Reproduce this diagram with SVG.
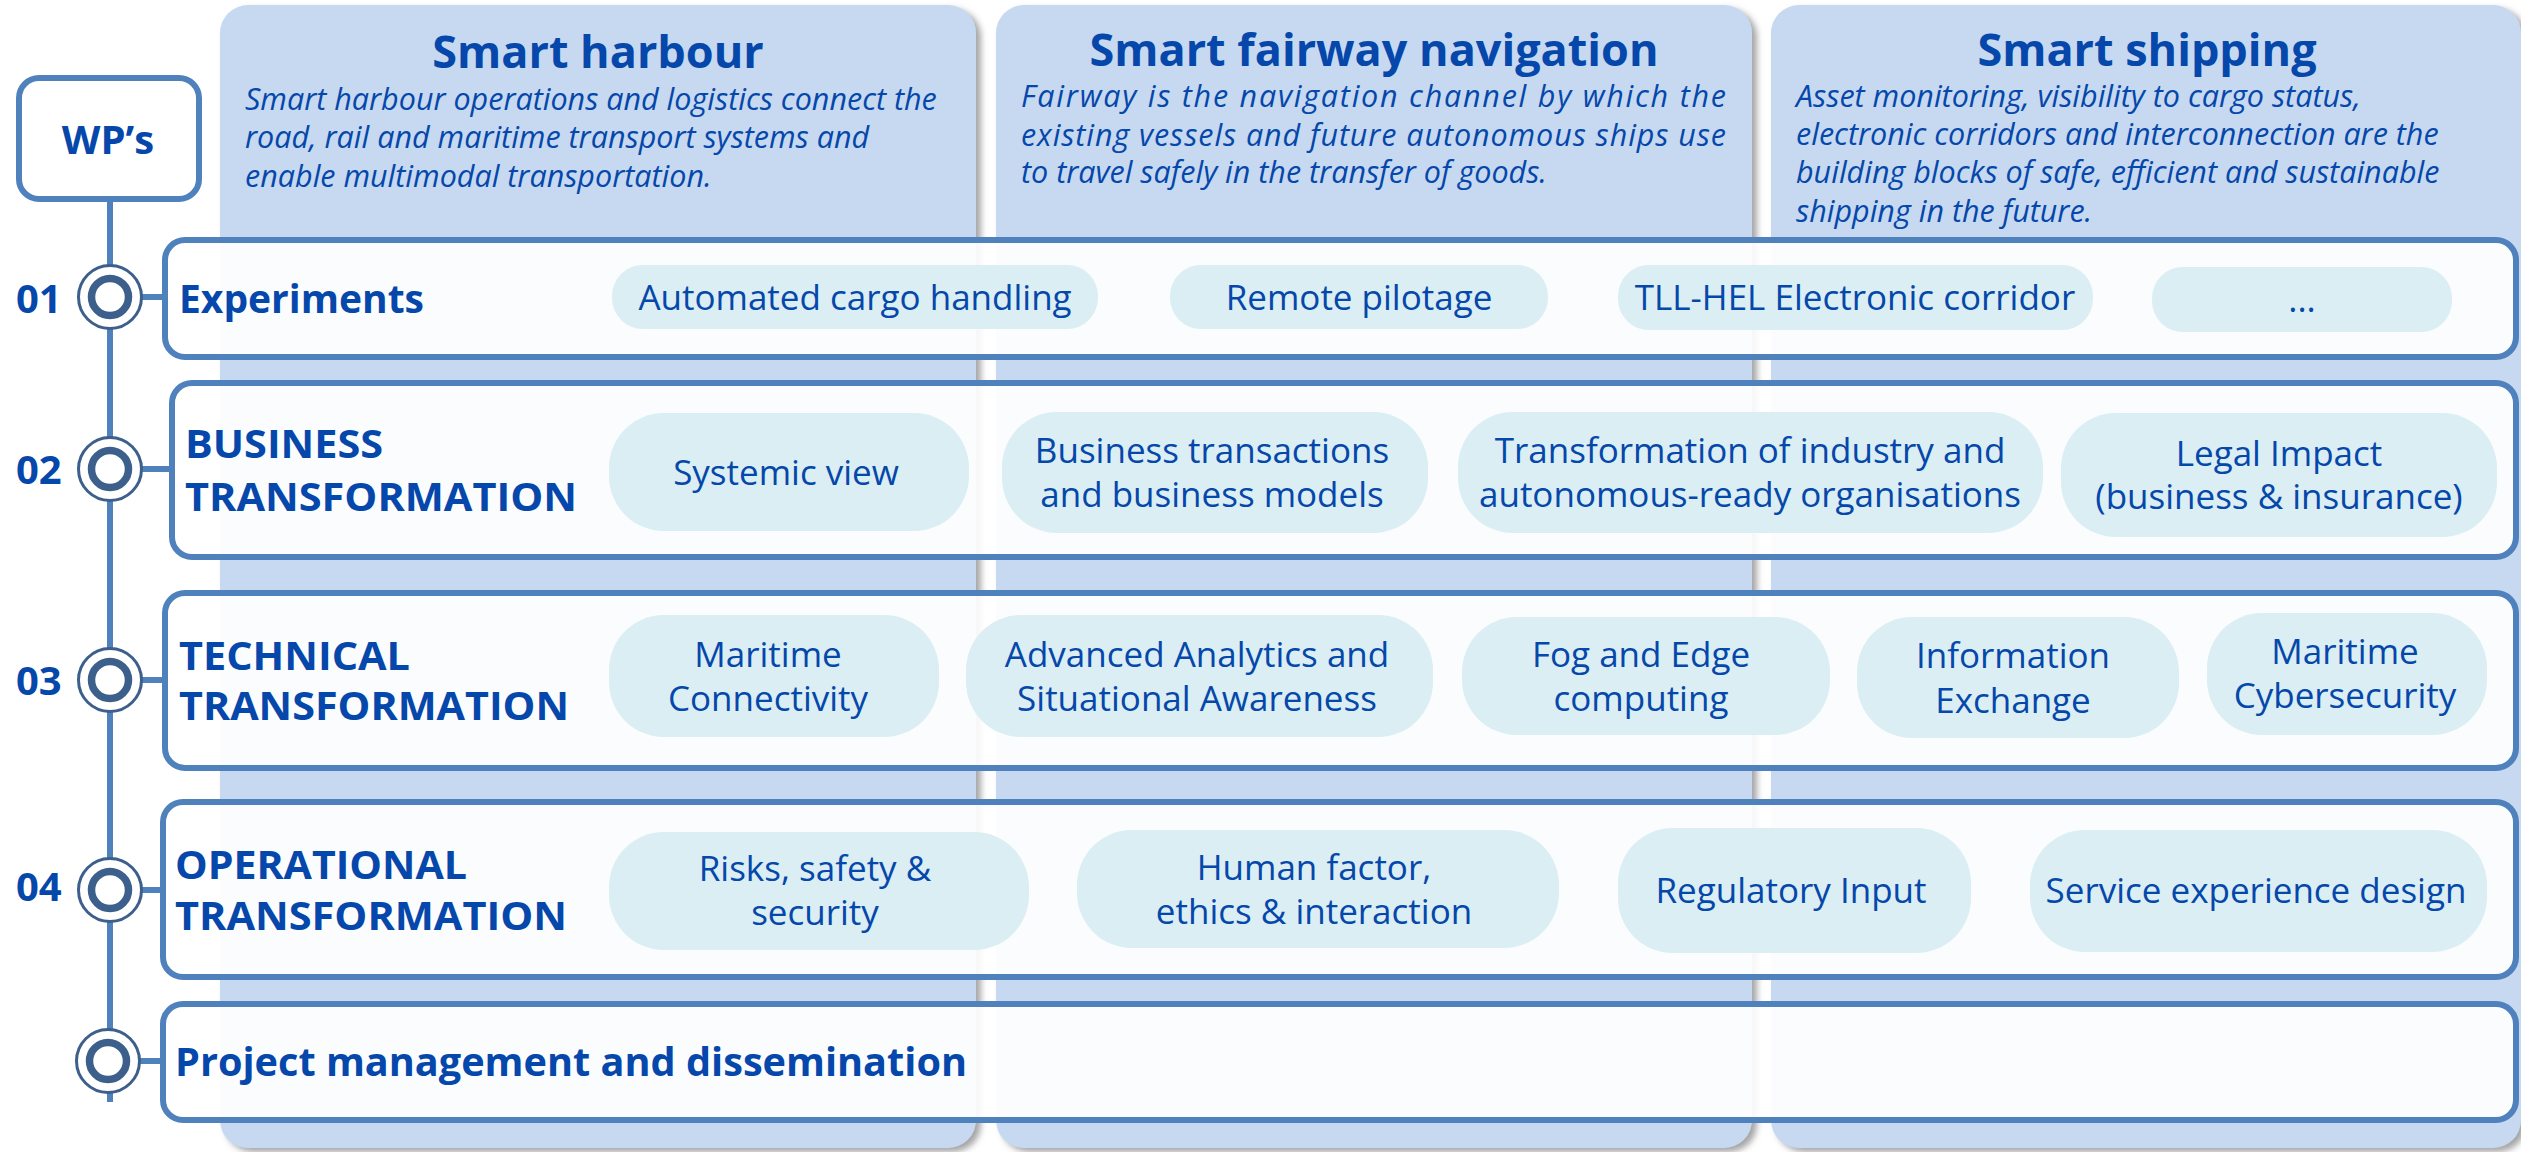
<svg xmlns="http://www.w3.org/2000/svg" width="2521" height="1152" viewBox="0 0 2521 1152">
<style>
.panel{fill:#C6D9F0;}
.row{fill:#FFFFFF;fill-opacity:0.9;stroke:#4F81BD;stroke-width:6;}
.pill{fill:#DAEEF3;}
.t{font-family:"Open Sans","Noto Sans",sans-serif;fill:#0547AA;}
.head{font-size:45px;font-weight:bold;text-anchor:middle;}
.desc{font-size:30.5px;font-style:italic;}
.lab{font-size:39px;font-weight:bold;}
.cap{font-size:40px;font-weight:bold;}
.num{font-size:40px;font-weight:bold;}
.pt{font-size:35px;text-anchor:middle;}
.line{stroke:#4F81BD;stroke-width:6;fill:none;}
.outer{fill:#FFFFFF;stroke:#3D5F8C;stroke-width:3;}
.inner{fill:#FFFFFF;stroke:#3D5F8C;stroke-width:7.5;}
</style>
<defs>
<filter id="sh" x="-5%" y="-5%" width="115%" height="115%">
<feDropShadow dx="5" dy="4" stdDeviation="3" flood-color="#7F7F7F" flood-opacity="0.7"/>
</filter>
</defs>
<rect width="2521" height="1152" fill="#FFFFFF"/>

<g id="panel-harbour">
<rect class="panel" x="220" y="5" width="756" height="1143" rx="28" filter="url(#sh)"/>
<text class="t head" x="598" y="68">Smart harbour</text>
<text class="t desc" x="245" y="110">Smart harbour operations and logistics connect the</text>
<text class="t desc" x="245" y="148">road, rail and maritime transport systems and</text>
<text class="t desc" x="245" y="187">enable multimodal transportation.</text>
</g>
<g id="panel-fairway">
<rect class="panel" x="996" y="5" width="756" height="1143" rx="28" filter="url(#sh)"/>
<text class="t head" x="1374" y="66">Smart fairway navigation</text>
<text class="t desc" x="1021" y="107" textLength="705" lengthAdjust="spacing">Fairway is the navigation channel by which the</text>
<text class="t desc" x="1021" y="146" textLength="705" lengthAdjust="spacing">existing vessels and future autonomous ships use</text>
<text class="t desc" x="1021" y="183">to travel safely in the transfer of goods.</text>
</g>
<g id="panel-shipping">
<rect class="panel" x="1771" y="5" width="750" height="1143" rx="28" filter="url(#sh)"/>
<text class="t head" x="2147" y="66">Smart shipping</text>
<text class="t desc" x="1796" y="107">Asset monitoring, visibility to cargo status,</text>
<text class="t desc" x="1796" y="145">electronic corridors and interconnection are the</text>
<text class="t desc" x="1796" y="183">building blocks of safe, efficient and sustainable</text>
<text class="t desc" x="1796" y="222">shipping in the future.</text>
</g>

<g id="connectors">
<line class="line" x1="110" y1="199" x2="110" y2="1102"/>
<line class="line" x1="140" y1="297" x2="166" y2="297"/>
<line class="line" x1="140" y1="469" x2="173" y2="469"/>
<line class="line" x1="140" y1="680" x2="166" y2="680"/>
<line class="line" x1="140" y1="890" x2="164" y2="890"/>
<line class="line" x1="138" y1="1061" x2="164" y2="1061"/>
</g>

<g id="wps">
<rect x="19" y="78" width="180" height="121" rx="20" fill="#FFFFFF" stroke="#4F81BD" stroke-width="6"/>
<text class="t" x="108" y="154" font-size="40" font-weight="bold" text-anchor="middle">WP’s</text>
</g>

<g id="row-01">
<rect class="row" x="165" y="240" width="2351" height="117" rx="20"/>
<circle class="outer" cx="110" cy="297" r="31.5"/>
<circle class="inner" cx="110" cy="297" r="18.5"/>
<text class="t num" x="16" y="313">01</text>
<text class="t lab" x="179" y="313">Experiments</text>
<rect class="pill" x="612" y="265" width="486" height="64" rx="31"/>
<text class="t pt" x="855" y="310">Automated cargo handling</text>
<rect class="pill" x="1170" y="265" width="378" height="64" rx="31"/>
<text class="t pt" x="1359" y="310">Remote pilotage</text>
<rect class="pill" x="1618" y="265" width="475" height="65" rx="31"/>
<text class="t pt" x="1855" y="310">TLL-HEL Electronic corridor</text>
<rect class="pill" x="2152" y="267" width="300" height="65" rx="31"/>
<text class="t pt" x="2302" y="312">...</text>
</g>

<g id="row-02">
<rect class="row" x="172" y="383" width="2344" height="174" rx="20"/>
<circle class="outer" cx="110" cy="469" r="31.5"/>
<circle class="inner" cx="110" cy="469" r="18.5"/>
<text class="t num" x="16" y="484">02</text>
<text class="t cap" x="185" y="458" textLength="198" lengthAdjust="spacingAndGlyphs">BUSINESS</text>
<text class="t cap" x="185" y="511" textLength="392" lengthAdjust="spacingAndGlyphs">TRANSFORMATION</text>
<rect class="pill" x="609" y="413" width="360" height="118" rx="55"/>
<text class="t pt" x="786" y="485">Systemic view</text>
<rect class="pill" x="1002" y="412" width="426" height="121" rx="55"/>
<text class="t pt" x="1212" y="463">Business transactions</text>
<text class="t pt" x="1212" y="507">and business models</text>
<rect class="pill" x="1458" y="412" width="585" height="121" rx="55"/>
<text class="t pt" x="1750" y="463">Transformation of industry and</text>
<text class="t pt" x="1750" y="507">autonomous-ready organisations</text>
<rect class="pill" x="2061" y="413" width="436" height="124" rx="55"/>
<text class="t pt" x="2279" y="466">Legal Impact</text>
<text class="t pt" x="2279" y="509">(business &amp; insurance)</text>
</g>

<g id="row-03">
<rect class="row" x="165" y="593" width="2351" height="175" rx="20"/>
<circle class="outer" cx="110" cy="680" r="31.5"/>
<circle class="inner" cx="110" cy="680" r="18.5"/>
<text class="t num" x="16" y="695">03</text>
<text class="t cap" x="179" y="670" textLength="231" lengthAdjust="spacingAndGlyphs">TECHNICAL</text>
<text class="t cap" x="179" y="720" textLength="390" lengthAdjust="spacingAndGlyphs">TRANSFORMATION</text>
<rect class="pill" x="609" y="615" width="330" height="122" rx="55"/>
<text class="t pt" x="768" y="667">Maritime</text>
<text class="t pt" x="768" y="711">Connectivity</text>
<rect class="pill" x="966" y="615" width="467" height="122" rx="55"/>
<text class="t pt" x="1197" y="667">Advanced Analytics and</text>
<text class="t pt" x="1197" y="711">Situational Awareness</text>
<rect class="pill" x="1462" y="617" width="368" height="118" rx="55"/>
<text class="t pt" x="1641" y="667">Fog and Edge</text>
<text class="t pt" x="1641" y="711">computing</text>
<rect class="pill" x="1857" y="617" width="322" height="121" rx="55"/>
<text class="t pt" x="2013" y="668">Information</text>
<text class="t pt" x="2013" y="713">Exchange</text>
<rect class="pill" x="2207" y="613" width="280" height="122" rx="55"/>
<text class="t pt" x="2345" y="664">Maritime</text>
<text class="t pt" x="2345" y="708">Cybersecurity</text>
</g>

<g id="row-04">
<rect class="row" x="163" y="802" width="2353" height="175" rx="20"/>
<circle class="outer" cx="110" cy="890" r="31.5"/>
<circle class="inner" cx="110" cy="890" r="18.5"/>
<text class="t num" x="16" y="901">04</text>
<text class="t cap" x="175" y="879" textLength="292" lengthAdjust="spacingAndGlyphs">OPERATIONAL</text>
<text class="t cap" x="175" y="930" textLength="392" lengthAdjust="spacingAndGlyphs">TRANSFORMATION</text>
<rect class="pill" x="609" y="832" width="420" height="118" rx="55"/>
<text class="t pt" x="815" y="881">Risks, safety &amp;</text>
<text class="t pt" x="815" y="925">security</text>
<rect class="pill" x="1077" y="830" width="482" height="118" rx="55"/>
<text class="t pt" x="1314" y="880">Human factor,</text>
<text class="t pt" x="1314" y="924">ethics &amp; interaction</text>
<rect class="pill" x="1618" y="828" width="353" height="125" rx="55"/>
<text class="t pt" x="1791" y="903">Regulatory Input</text>
<rect class="pill" x="2030" y="830" width="457" height="122" rx="55"/>
<text class="t pt" x="2256" y="903">Service experience design</text>
</g>

<g id="row-05">
<rect class="row" x="163" y="1004" width="2353" height="116" rx="20"/>
<circle class="outer" cx="108" cy="1061" r="31.5"/>
<circle class="inner" cx="108" cy="1061" r="18.5"/>
<text class="t lab" x="175" y="1076" textLength="792" lengthAdjust="spacingAndGlyphs">Project management and dissemination</text>
</g>
</svg>
